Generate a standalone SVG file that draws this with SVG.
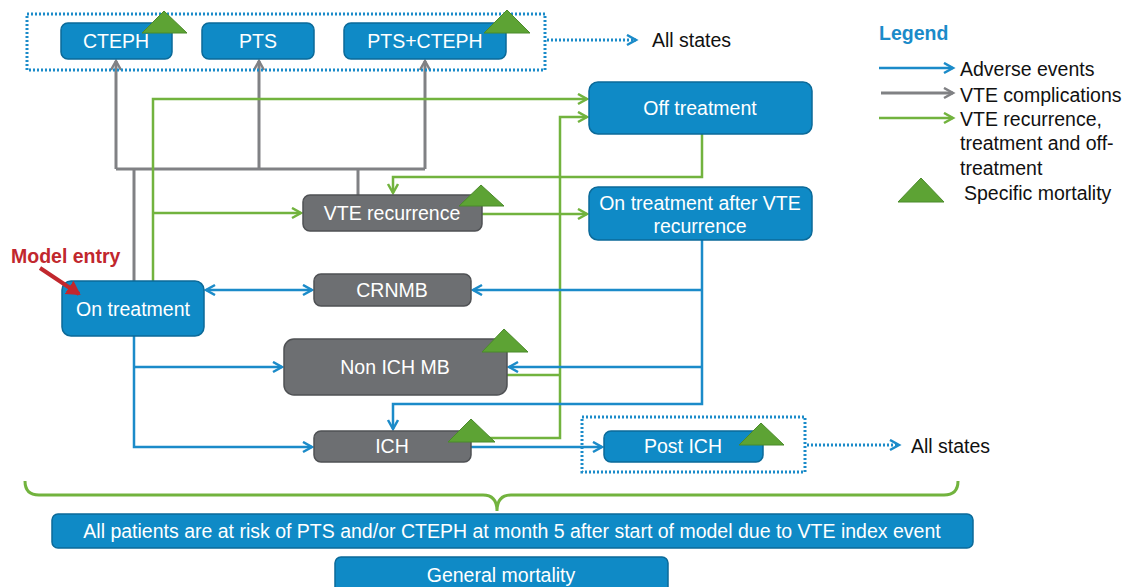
<svg xmlns="http://www.w3.org/2000/svg" width="1129" height="587" viewBox="0 0 1129 587">
<style>
text{font-family:"Liberation Sans",Arial,sans-serif;font-size:19.5px}
.bt{fill:#fff;text-anchor:middle}
.bb{fill:#0f8ac6;stroke:#0b6a99;stroke-width:1.5}
.gb{fill:#6d6f72;stroke:#4f5154;stroke-width:1.5}
.tri{fill:#5da334;stroke:#4b8a2a;stroke-width:1}
.bl{fill:none;stroke:#1b8bc9;stroke-width:2.5}
.gl{fill:none;stroke:#72b33e;stroke-width:2.5}
.gy{fill:none;stroke:#808184;stroke-width:3}
.dot{fill:none;stroke:#1b8bc9;stroke-width:3;stroke-dasharray:2 2}
.lt{fill:#111}
</style>
<defs>
<marker id="ab" markerUnits="userSpaceOnUse" markerWidth="14" markerHeight="14" refX="10" refY="6" orient="auto-start-reverse"><path d="M1,1 L10,6 L1,11" fill="none" stroke="#1b8bc9" stroke-width="2.5"/></marker>
<marker id="ag" markerUnits="userSpaceOnUse" markerWidth="14" markerHeight="14" refX="10" refY="6" orient="auto"><path d="M1,1 L10,6 L1,11" fill="none" stroke="#72b33e" stroke-width="2.5"/></marker>
<marker id="ay" markerUnits="userSpaceOnUse" markerWidth="14" markerHeight="14" refX="10" refY="6" orient="auto"><path d="M1,1 L10,6 L1,11" fill="none" stroke="#808184" stroke-width="2.5"/></marker>
<marker id="ar" markerUnits="userSpaceOnUse" markerWidth="20" markerHeight="20" refX="12" refY="8" orient="auto"><path d="M0,0 L14,8 L0,16 Z" fill="#c1272d"/></marker>
</defs>

<g id="connectors">
<path class="gy" d="M116,169 L425,169"/>
<path class="gy" d="M116,169 L116,61" marker-end="url(#ay)"/>
<path class="gy" d="M259,169 L259,61" marker-end="url(#ay)"/>
<path class="gy" d="M425,169 L425,61" marker-end="url(#ay)"/>
<path class="gy" d="M134,281 L134,169"/>
<path class="gy" d="M358,195 L358,169"/>
<path class="gl" d="M153,281 L153,99 L587,99" marker-end="url(#ag)"/>
<path class="gl" d="M153,213 L301,213" marker-end="url(#ag)"/>
<path class="gl" d="M482,214 L587,214" marker-end="url(#ag)"/>
<path class="gl" d="M702,134 L702,177 L393,177 L393,193" marker-end="url(#ag)"/>
<path class="gl" d="M471,438 L560,438 L560,117 L587,117" marker-end="url(#ag)"/>
<path class="gl" d="M507,375 L560,375"/>
<path class="bl" d="M206,290 L312,290" marker-start="url(#ab)" marker-end="url(#ab)"/>
<path class="bl" d="M134,336 L134,447 L312,447" marker-end="url(#ab)"/>
<path class="bl" d="M134,367 L282,367" marker-end="url(#ab)"/>
<path class="bl" d="M702,240 L702,404 L393,404 L393,429" marker-end="url(#ab)"/>
<path class="bl" d="M702,290 L473,290" marker-end="url(#ab)"/>
<path class="bl" d="M702,367 L509,367" marker-end="url(#ab)"/>
<path class="bl" d="M471,447 L602,447" marker-end="url(#ab)"/>
<path class="dot" d="M547,40 L636,40" marker-end="url(#ab)"/>
<path class="dot" d="M807,445 L899,445" marker-end="url(#ab)"/>
<path d="M25,481 Q25,495 39,495 L483,495 Q497,495 497,511 Q497,495 511,495 L944,495 Q958,495 958,481" fill="none" stroke="#72b33e" stroke-width="3"/>
</g>

<g id="complications-group"><rect class="dot" x="27" y="14" width="518" height="56"/></g>
<g id="cteph"><rect class="bb" x="61" y="23" width="111" height="36" rx="7"/><text class="bt" x="116" y="48">CTEPH</text><polygon class="tri" points="164,11 142,33 187,33"/></g>
<g id="pts"><rect class="bb" x="202" y="23" width="112" height="36" rx="7"/><text class="bt" x="258" y="48">PTS</text></g>
<g id="pts-cteph"><rect class="bb" x="344" y="23" width="162" height="36" rx="7"/><text class="bt" x="425" y="48">PTS+CTEPH</text><polygon class="tri" points="507,10 484,33 530,33"/></g>
<g id="all-states-top"><text class="lt" x="652" y="47">All states</text></g>

<g id="off-treatment"><rect class="bb" x="589" y="82" width="223" height="52" rx="9"/><text class="bt" x="700" y="115">Off treatment</text></g>
<g id="on-treatment-after"><rect class="bb" x="589" y="187" width="223" height="53" rx="9"/><text class="bt" x="700" y="210">On treatment after VTE</text><text class="bt" x="700" y="233">recurrence</text></g>
<g id="vte-recurrence"><rect class="gb" x="303" y="195" width="179" height="36" rx="7"/><text class="bt" x="392" y="220">VTE recurrence</text><polygon class="tri" points="481,185 459,206 504,206"/></g>
<g id="on-treatment"><rect class="bb" x="62" y="281" width="142" height="55" rx="9"/><text class="bt" x="133" y="316">On treatment</text></g>
<g id="model-entry"><text x="11" y="263" fill="#c1272d" font-weight="bold">Model entry</text><path d="M40,268 L79,294" stroke="#c1272d" stroke-width="4" fill="none" marker-end="url(#ar)"/></g>
<g id="crnmb"><rect class="gb" x="314" y="274" width="157" height="32" rx="7"/><text class="bt" x="392" y="297">CRNMB</text></g>
<g id="non-ich-mb"><rect class="gb" x="284" y="339" width="223" height="56" rx="10"/><text class="bt" x="395" y="374">Non ICH MB</text><polygon class="tri" points="504,329 482,352 528,352"/></g>
<g id="ich"><rect class="gb" x="314" y="431" width="157" height="31" rx="7"/><text class="bt" x="392" y="453">ICH</text><polygon class="tri" points="471,419 448,442 495,442"/></g>
<g id="post-ich"><rect class="dot" x="582" y="417" width="223" height="55"/><rect class="bb" x="604" y="431" width="159" height="31" rx="7"/><text class="bt" x="683" y="453">Post ICH</text><polygon class="tri" points="761,423 739,445 784,445"/></g>
<g id="all-states-bottom"><text class="lt" x="911" y="453">All states</text></g>

<g id="risk-note"><rect class="bb" x="52" y="514" width="921" height="34" rx="6"/><text class="bt" x="512" y="538">All patients are at risk of PTS and/or CTEPH at month 5 after start of model due to VTE index event</text></g>
<g id="general-mortality"><rect class="bb" x="335" y="557" width="333" height="45" rx="6"/><text class="bt" x="501" y="582">General mortality</text></g>

<g id="legend">
<text x="879" y="40" fill="#1b8bc9" font-weight="bold">Legend</text>
<path class="bl" d="M879,68 L953,68" marker-end="url(#ab)"/>
<text class="lt" x="960" y="76">Adverse events</text>
<path class="gy" d="M881,93 L953,93" marker-end="url(#ay)"/>
<text class="lt" x="960" y="102">VTE complications</text>
<path class="gl" d="M879,118 L953,118" marker-end="url(#ag)"/>
<text class="lt" x="960" y="126">VTE recurrence,</text>
<text class="lt" x="960" y="150">treatment and off-</text>
<text class="lt" x="960" y="175">treatment</text>
<polygon class="tri" points="921,178 898,202 944,202"/>
<text class="lt" x="964" y="200">Specific mortality</text>
</g>
</svg>
